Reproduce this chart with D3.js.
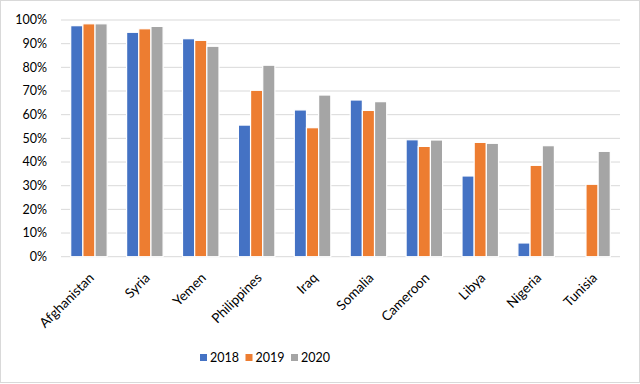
<!DOCTYPE html>
<html>
<head>
<meta charset="utf-8">
<script src="https://cdn.jsdelivr.net/npm/d3@7"></script>
<style>
  body { margin: 0; background: #fff; }
  text { font-family: "Lato", "Open Sans", sans-serif; fill: #000; }
</style>
</head>
<body>
<div id="chart"></div>
<script>
const countries = ["Afghanistan", "Syria", "Yemen", "Philippines", "Iraq", "Somalia", "Cameroon", "Libya", "Nigeria", "Tunisia"];
const years = ["2018", "2019", "2020"];
const v2018 = [0.976, 0.948, 0.921, 0.556, 0.620, 0.662, 0.494, 0.341, 0.058, null];
const v2019 = [0.984, 0.963, 0.914, 0.703, 0.545, 0.618, 0.466, 0.483, 0.386, 0.306];
const v2020 = [0.984, 0.973, 0.889, 0.809, 0.683, 0.655, 0.493, 0.479, 0.469, 0.445];
const yTicks = [0, 0.1, 0.2, 0.3, 0.4, 0.5, 0.6, 0.7, 0.8, 0.9, 1.0];
const colors = ["#4472C4", "#ED7D31", "#A5A5A5"];

const W = 640, H = 384;
const plot = { left: 61, right: 620, top: 20, bottom: 256.7 };

const svg = d3.select("#chart")
    .append("svg")
    .attr("width", W)
    .attr("height", H);

// outer frame
svg.append("rect")
    .attr("x", 0.5).attr("y", 0.5)
    .attr("width", W - 1).attr("height", H - 2)
    .attr("fill", "#fff")
    .attr("stroke", "#d9d9d9");

const x = d3.scaleBand()
    .domain(countries)
    .range([plot.left, plot.right]);

const x1 = d3.scaleBand()
    .domain(years)
    .range([0, 36.5]);

const y = d3.scaleLinear()
    .domain([0, 1])
    .range([plot.bottom, plot.top]);

// gridlines
svg.append("g")
    .selectAll("line")
    .data(yTicks)
    .enter()
    .append("line")
    .attr("x1", plot.left)
    .attr("x2", plot.right)
    .attr("y1", d => y(d))
    .attr("y2", d => y(d))
    .attr("stroke", "#d9d9d9")
    .attr("stroke-width", 1);

// y labels
svg.append("g")
    .selectAll("text")
    .data(yTicks)
    .enter()
    .append("text")
    .attr("x", 47)
    .attr("y", d => y(d))
    .attr("dy", "0.35em")
    .attr("text-anchor", "end")
    .style("font-size", "12.5px")
    .text(d3.format(".0%"));

// bars
const series = [v2018, v2019, v2020];
const groups = svg.append("g")
    .selectAll("g")
    .data(countries)
    .enter()
    .append("g")
    .attr("transform", d => `translate(${x(d) + (x.bandwidth() - x1.range()[1]) / 2},0)`);

groups.selectAll("rect")
    .data((c, i) => years.map((yr, k) => ({ yr, k, v: series[k][i] })).filter(d => d.v != null))
    .enter()
    .append("rect")
    .attr("x", d => x1(d.yr))
    .attr("width", x1.bandwidth())
    .attr("y", d => y(d.v))
    .attr("height", d => plot.bottom - y(d.v))
    .attr("fill", d => colors[d.k])
    .attr("stroke", "#fff")
    .attr("stroke-width", 1.2);

// x labels
svg.append("g")
    .selectAll("text")
    .data(countries)
    .enter()
    .append("text")
    .attr("text-anchor", "end")
    .attr("transform", d => `translate(${x(d) + x.bandwidth() / 2 + 6},${plot.bottom + 22}) rotate(-45)`)
    .style("font-size", "13.5px")
    .text(d => d);

// legend
const legend = svg.append("g")
    .selectAll("g")
    .data(years)
    .enter()
    .append("g")
    .attr("transform", (d, i) => `translate(${200 + i * 45.5},358)`);

legend.append("rect")
    .attr("x", 0)
    .attr("y", -4)
    .attr("width", 7)
    .attr("height", 7)
    .attr("fill", (d, i) => colors[i]);

legend.append("text")
    .attr("x", 10)
    .attr("y", 0)
    .attr("dy", "0.35em")
    .style("font-size", "12.5px")
    .text(d => d);
</script>
</body>
</html>
